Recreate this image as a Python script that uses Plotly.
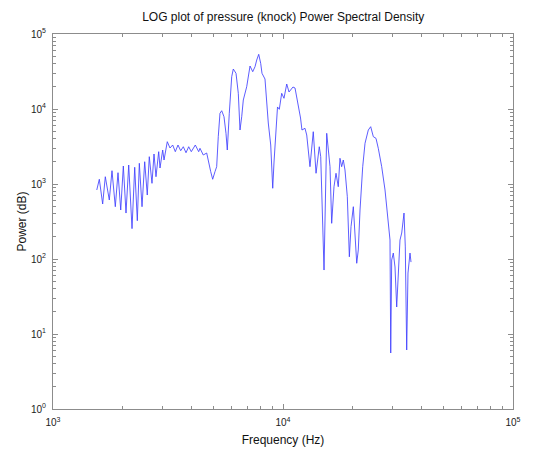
import plotly.graph_objects as go

# Frequency (Hz) and power values
frequency_hz = [
    1550, 1590, 1644, 1688, 1757, 1805, 1866, 1917, 1970, 2022,
    2077, 2134, 2206, 2266, 2326, 2373, 2438, 2504, 2570, 2622,
    2694, 2749, 2804, 2881, 2919, 2999, 3039, 3140, 3226, 3314,
    3402, 3495, 3591, 3686, 3787, 3890, 3993, 4156, 4300, 4356,
    4502, 4658, 4850, 4946, 5061, 5148, 5231, 5321, 5413, 5539,
    5651, 5725, 5841, 5984, 6080, 6247, 6392, 6502, 6614, 6721,
    6954, 7188, 7385, 7557, 7687, 7842, 7998, 8103, 8350, 8631,
    8843, 9022, 9141, 9324, 9465, 9636, 9870, 10100, 10380, 10620,
    10830, 11050, 11280, 11620, 11920, 12090, 12460, 12680, 13100, 13540,
    13920, 14380, 14590, 15080, 15490, 16010, 16280, 16660, 17000, 17390,
    17690, 17990, 18290, 18600, 19040, 19430, 19760, 20220, 20560, 20920,
    21250, 21620, 22210, 22730, 23490, 24060, 24700, 25370, 25960, 26860,
    27770, 28700, 29190, 29400, 29690, 30170, 30690, 31210, 31720, 32260,
    32820, 33580, 34020, 34500, 34950, 35660, 36020,
]
power = [
    832, 1156, 541, 1250, 612, 1503, 498, 1415, 450, 1738,
    410, 1792, 254, 1671, 324, 1888, 498, 1982, 713, 2312,
    1021, 2512, 1250, 2697, 1634, 2840, 2089, 3664, 3020, 3311,
    2697, 3311, 2780, 3141, 2612, 3141, 2697, 3311, 2697, 2992,
    2436, 2590, 1459, 1156, 1459, 1701, 4276, 8770, 9484, 7889,
    4742, 2840, 8770, 26960, 34150, 29920, 16190, 5248, 7889, 13180,
    19830, 37430, 31430, 36640, 44980, 53580, 40640, 29920, 25120, 6506,
    3311, 877, 1965, 4500, 10640, 9908, 16190, 13900, 21540, 16860,
    17920, 19650, 19050, 12020, 7586, 5248, 5531, 4500, 1701, 4979,
    1390, 3141, 2312, 71.3, 4742, 1701, 299, 920, 1390, 920,
    2203, 1701, 2089, 1538, 677, 107, 270, 498, 220, 87.7,
    132, 450, 1701, 3491, 5248, 5808, 4276, 4064, 2992, 1701,
    832, 331, 179, 5.58, 97, 120, 78.2, 22.9, 65, 179,
    222, 410, 145, 6.12, 65, 120, 91,
]

x_tick_values = [1e3, 1e4, 1e5]
x_tick_labels = ["10<sup>3</sup>", "10<sup>4</sup>", "10<sup>5</sup>"]
y_tick_values = [1, 10, 100, 1e3, 1e4, 1e5]
y_tick_labels = ["10<sup>0</sup>", "10<sup>1</sup>", "10<sup>2</sup>",
                 "10<sup>3</sup>", "10<sup>4</sup>", "10<sup>5</sup>"]

title_text = "LOG plot of pressure (knock) Power Spectral Density"
x_label = "Frequency (Hz)"
y_label = "Power (dB)"

axis_color = "#8c8c8c"
font_family = "Liberation Sans, Arial, sans-serif"

fig = go.Figure()
fig.add_trace(go.Scatter(
    x=frequency_hz, y=power, mode="lines",
    line=dict(color="#4040ff", width=0.85),
    showlegend=False,
))

common_axis = dict(
    type="log",
    automargin=False,
    showgrid=False,
    zeroline=False,
    showline=True,
    linecolor=axis_color,
    linewidth=1,
    mirror="ticks",
    ticks="inside",
    ticklen=5,
    tickcolor=axis_color,
    tickfont=dict(family=font_family, size=10, color="#222222"),
    minor=dict(ticks="inside", ticklen=3, tickcolor=axis_color, dtick="D1", showgrid=False),
)

fig.update_layout(
    width=540, height=450,
    margin=dict(l=53, r=27, t=34, b=41),
    paper_bgcolor="white",
    plot_bgcolor="white",
    font=dict(family=font_family, color="#111111"),
    title=dict(text=title_text, x=0.5245, xanchor="center", y=0.962, yanchor="middle",
               font=dict(size=12, family=font_family, color="#111111")),
    xaxis=dict(common_axis, range=[3, 5], tickmode="array",
               tickvals=x_tick_values, ticktext=x_tick_labels,
               ticklabelstandoff=4,
               title=dict(text=x_label, font=dict(size=12, family=font_family), standoff=8)),
    yaxis=dict(common_axis, range=[0, 5], tickmode="array",
               tickvals=y_tick_values, ticktext=y_tick_labels,
               ticklabelstandoff=4,
               title=dict(text=y_label, font=dict(size=12, family=font_family), standoff=1)),
)

fig.write_html("out.html")
